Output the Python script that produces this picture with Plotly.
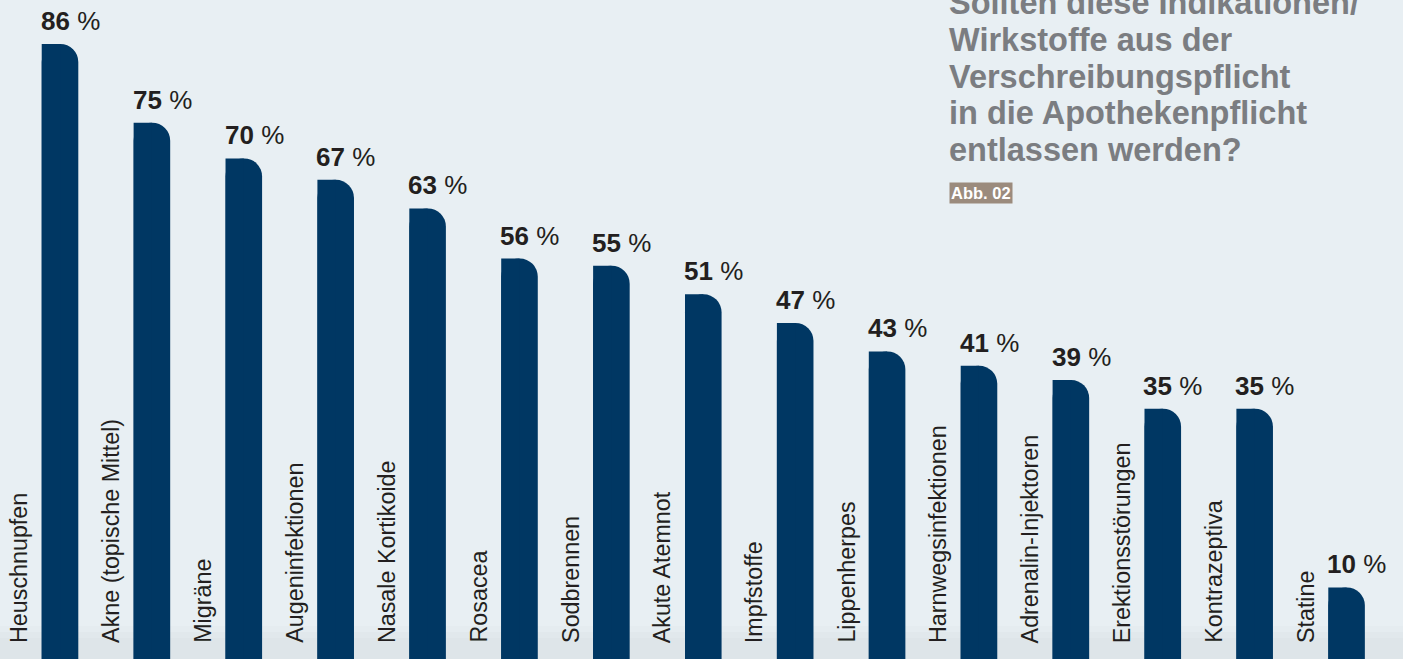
import plotly.graph_objects as go

# Survey results: share of respondents in favour of moving each indication
categories = [
    "Heuschnupfen", "Akne (topische Mittel)", "Migräne", "Augeninfektionen",
    "Nasale Kortikoide", "Rosacea", "Sodbrennen", "Akute Atemnot", "Impfstoffe",
    "Lippenherpes", "Harnwegsinfektionen", "Adrenalin-Injektoren",
    "Erektionsstörungen", "Kontrazeptiva", "Statine",
]
values = [86, 75, 70, 67, 63, 56, 55, 51, 47, 43, 41, 39, 35, 35, 10]

title_lines = [
    "Sollten diese Indikationen/",
    "Wirkstoffe aus der",
    "Verschreibungspflicht",
    "in die Apothekenpflicht",
    "entlassen werden?",
]
figure_tag = "Abb. 02"

BG = "#e8eff3"
BAR = "#003763"
TEXT = "#231f20"
TITLE = "#7b7d81"
TAG_BG = "#9b8b7d"
FONT = "Liberation Sans, Arial, sans-serif"

W, H = 1403, 659
BAR_W = 0.398          # bar width in category units
PX_PER_CAT = 91.9      # horizontal pixels per category step
idx = list(range(len(categories)))

fig = go.Figure()

# rounded bar (both top corners rounded)
fig.add_trace(go.Bar(
    x=idx, y=values, width=BAR_W, offset=-BAR_W / 2,
    marker=dict(color=BAR, line=dict(width=0), cornerradius=22),
    hoverinfo="skip", showlegend=False,
))
# square left half keeps the top-left corner sharp
fig.add_trace(go.Bar(
    x=idx, y=values, width=BAR_W * 0.5, offset=-BAR_W / 2,
    marker=dict(color=BAR, line=dict(width=0)),
    hoverinfo="skip", showlegend=False,
))

annotations = []
for i, (cat, v) in enumerate(zip(categories, values)):
    # vertical category label to the left of the bar
    annotations.append(dict(
        x=i, y=0, xref="x", yref="y", text=cat, showarrow=False,
        textangle=-90, xanchor="center", yanchor="bottom",
        xshift=-41, yshift=14,
        font=dict(family=FONT, size=23.3, color=TEXT),
    ))
    # value label above the bar
    annotations.append(dict(
        x=i, y=v, xref="x", yref="y", text=f"<b>{v}</b> %", showarrow=False,
        xanchor="left", yanchor="bottom",
        xshift=-BAR_W / 2 * PX_PER_CAT - 3, yshift=6,
        font=dict(family=FONT, size=26, color=TEXT),
    ))

# title block, top right, one annotation per line
TITLE_X = 947
TITLE_SIZE = 32.5
LINE_GAP = 36.8
first_center = 3.0
for k, line in enumerate(title_lines):
    cy = first_center + k * LINE_GAP
    annotations.append(dict(
        x=TITLE_X / W, y=1 - cy / H, xref="paper", yref="paper",
        text=f"<b>{line}</b>", showarrow=False,
        xanchor="left", yanchor="middle", align="left",
        font=dict(family=FONT, size=TITLE_SIZE, color=TITLE),
    ))

annotations.append(dict(
    x=949 / W, y=1 - 182 / H, xref="paper", yref="paper",
    text=f"<b>{figure_tag}</b>", showarrow=False,
    xanchor="left", yanchor="top",
    bgcolor=TAG_BG, borderpad=1,
    font=dict(family=FONT, size=16.5, color="white"),
))

# faint darker band along the bottom edge of the background
shapes = []
band_steps = [(626, 0.25), (632, 0.5), (638, 0.8)]
for y_top, op in band_steps:
    shapes.append(dict(
        type="rect", xref="paper", yref="paper", layer="below",
        x0=0, x1=1, y0=0, y1=1 - y_top / H,
        fillcolor="#dde4e8", opacity=op, line=dict(width=0),
    ))

fig.update_layout(
    width=W, height=H,
    margin=dict(l=0, r=0, t=0, b=0),
    paper_bgcolor=BG, plot_bgcolor="rgba(0,0,0,0)",
    barmode="overlay",
    xaxis=dict(range=[-0.653, 14.614], visible=False, fixedrange=True),
    yaxis=dict(range=[0, 92.15], visible=False, fixedrange=True),
    annotations=annotations,
    shapes=shapes,
    showlegend=False,
)

fig.write_html("out.html")
